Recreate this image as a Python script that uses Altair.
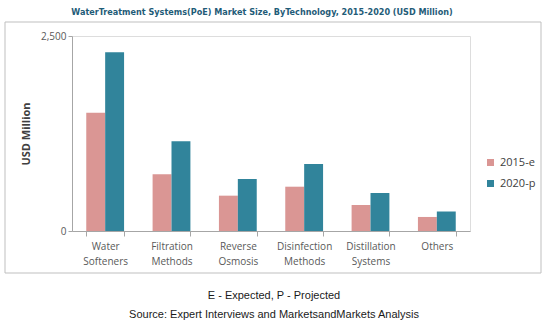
import altair as alt
import pandas as pd

categories = ["Water Softeners", "Filtration Methods", "Reverse Osmosis",
              "Disinfection Methods", "Distillation Systems", "Others"]
v2015 = [1517, 727, 453, 568, 333, 180]
v2020 = [2291, 1150, 667, 859, 487, 250]
series = ["2015-e", "2020-p"]
colors = ["#DA9694", "#31849B"]

rows = []
for c, a, b in zip(categories, v2015, v2020):
    rows.append({"Technology": c, "Year": series[0], "Value": a})
    rows.append({"Technology": c, "Year": series[1], "Value": b})
df = pd.DataFrame(rows)

W, H = 398, 195
PL, PT = 72, 36

bars = alt.Chart(df).mark_bar().encode(
    x=alt.X("Technology:N", sort=categories,
            scale=alt.Scale(paddingInner=0.43, paddingOuter=0.215),
            axis=alt.Axis(title=None, labelExpr="split(datum.label, ' ')",
                          labelAngle=0, labelFont="Open Sans", labelFontSize=10,
                          labelColor="#595959", labelLineHeight=15, labelPadding=5,
                          tickBand="extent", tickSize=5, tickColor="#A6A6A6",
                          domainColor="#A6A6A6", labelBaseline="top")),
    xOffset=alt.XOffset("Year:N", sort=series, scale=alt.Scale(paddingInner=0)),
    y=alt.Y("Value:Q", scale=alt.Scale(domain=[0, 2500]),
            axis=alt.Axis(title="USD Million", values=[0, 2500], format=",.0f",
                          grid=False, labelFont="Open Sans", labelFontSize=10,
                          labelColor="#595959", tickSize=4, tickColor="#A6A6A6",
                          domainColor="#A6A6A6", titleFont="Open Sans",
                          titleFontSize=11, titleFontWeight="bold",
                          titleColor="#404040", titlePadding=9)),
    color=alt.Color("Year:N", sort=series,
                    scale=alt.Scale(domain=series, range=colors),
                    legend=alt.Legend(title=None, orient="none", legendX=413,
                                      legendY=121, symbolType="square",
                                      symbolSize=49, symbolStrokeWidth=0,
                                      labelFont="Open Sans", labelFontSize=11,
                                      labelColor="#404040", rowPadding=9)),
)

one = alt.Data(values=[{"a": 1}])
border = alt.Chart(one).mark_rect(fill=None, stroke="#BFBFBF", strokeWidth=1).encode(
    x=alt.value(5 - PL), x2=alt.value(541 - PL),
    y=alt.value(22 - PT), y2=alt.value(273 - PT))

note1 = alt.Chart(one).mark_text(font="Liberation Sans", fontSize=11,
                                 color="#1A1A1A", align="center").encode(
    x=alt.value(274 - PL), y=alt.value(296 - PT),
    text=alt.value("E - Expected, P - Projected"))
note2 = alt.Chart(one).mark_text(font="Liberation Sans", fontSize=11,
                                 color="#1A1A1A", align="center").encode(
    x=alt.value(274 - PL), y=alt.value(315 - PT),
    text=alt.value("Source: Expert Interviews and MarketsandMarkets Analysis"))

chart = alt.layer(border, bars, note1, note2).properties(
    width=W, height=H,
    title=alt.Title("WaterTreatment Systems(PoE) Market Size, ByTechnology, 2015-2020 (USD Million)",
                    font="DejaVu Sans Condensed, Roboto, sans-serif", fontSize=9,
                    fontWeight="bold", color="#1F5C78", anchor="middle", dx=-9, offset=5),
    autosize=alt.AutoSizeParams(type="none"),
    padding={"left": PL, "top": PT, "right": 550 - PL - W, "bottom": 324 - PT - H},
).configure_view(stroke=None).configure(background="white")

chart.save("out.html", embed_options={"renderer": "svg", "actions": False})
